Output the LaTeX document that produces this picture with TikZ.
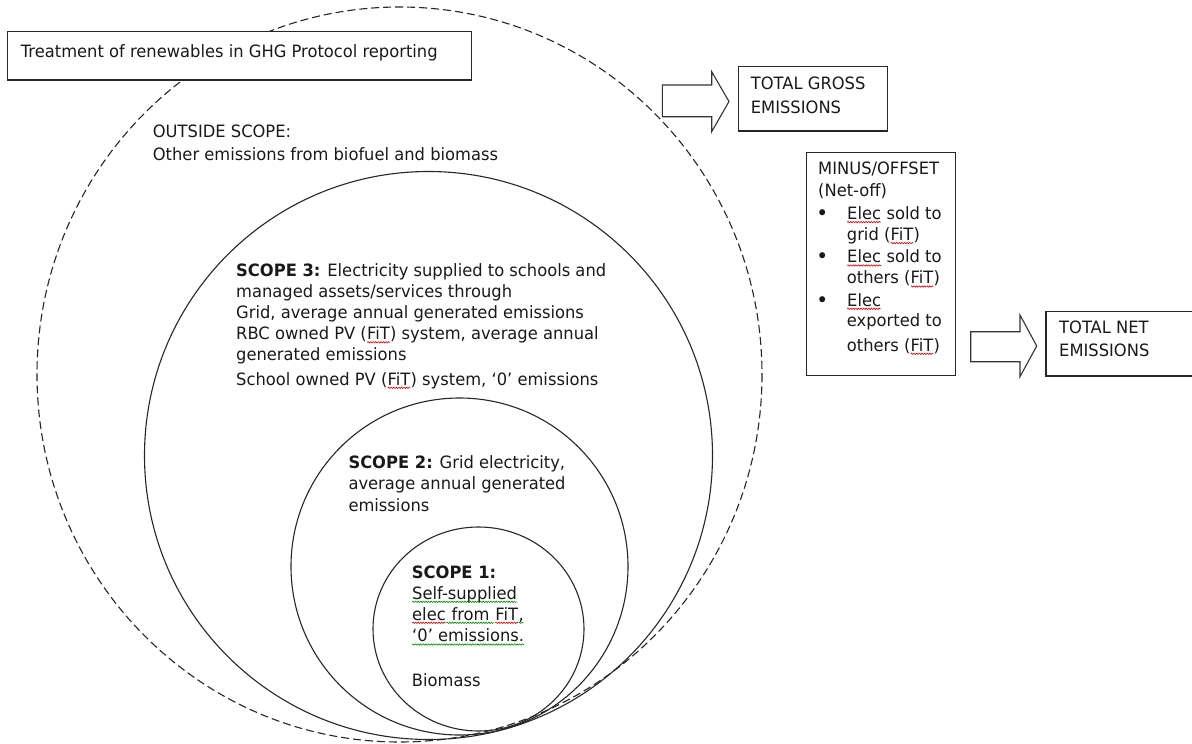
\documentclass[tikz,border=0pt]{standalone}
\usepackage{fontspec}
\setmainfont[FakeStretch=0.96]{DejaVu Sans}
\usetikzlibrary{decorations.pathmorphing}
\newcommand\sqg[2]{\tikz[baseline=(w.base)]{\node[anchor=base, inner sep=0pt, outer sep=0pt] (w) {#2};
  \draw[#1, line width=0.6pt, decorate, decoration={snake, amplitude=0.7pt, segment length=2.6pt}] ([yshift=-2.8pt]w.base west) -- ([yshift=-2.8pt]w.base east);}}
\newcommand\rsq[1]{\sqg{red!85!black}{#1}}
\newcommand\gsq[1]{\sqg{green!55!black}{#1}}
\tikzset{
  lbl/.style={anchor=base west, inner sep=0pt, font=\fontsize{17}{21}\selectfont, text=black!90},
  bul/.style={anchor=base, inner sep=0pt, font=\fontsize{21}{21}\selectfont, text=black!90},
  ring/.style={draw=black!85, line width=1.1pt},
  frame/.style={draw=black!85, line width=1.2pt, fill=white},
  blockarrow/.style={draw=black!80, line width=1.1pt, fill=white, line join=miter},
}
\begin{document}
\begin{tikzpicture}[x=1pt,y=-1pt]
\useasboundingbox (0,0) rectangle (1192,744);
% rings
\draw[ring, dash pattern=on 8pt off 4pt] (399.5,374.5) ellipse [x radius=362.5, y radius=367.5];
\draw[ring] (428.5,455.5) circle [radius=284];
\draw[ring] (459.5,566.5) circle [radius=168.5];
\draw[ring] (478.5,629) ellipse [x radius=105.5, y radius=102];
% boxes
\draw[frame] (7.3,31.5) rectangle (471.7,80);
\draw[frame] (738.3,66.7) rectangle (887.7,131);
\draw[frame] (806.7,152.3) rectangle (955.7,375.7);
\draw[frame] (1046,311.7) rectangle (1200,376);
% block arrows
\draw[blockarrow] (662.3,85) -- (711.7,85) -- (711.7,71.7) -- (729,101.5) -- (711.7,131.7) -- (711.7,116.7) -- (662.3,116.7) -- cycle;
\draw[blockarrow] (970.7,331.7) -- (1020,331.7) -- (1020,315) -- (1036.7,346) -- (1020,376.7) -- (1020,361.7) -- (970.7,361.7) -- cycle;
% title
\node[lbl] (title) at (20.7,57.3) {Treatment of renewables in GHG Protocol reporting};
% outside scope
\node[lbl] (out1) at (152.7,137.3) {OUTSIDE SCOPE:};
\node[lbl] (out2) at (152.7,160) {Other emissions from biofuel and biomass};
% scope 3
\node[lbl] (s3a) at (236,276) {\textbf{SCOPE 3:} Electricity supplied to schools and};
\node[lbl] (s3b) at (236,297.5) {managed assets/services through};
\node[lbl] (s3c) at (236,318.5) {Grid, average annual generated emissions};
\node[lbl] (s3d) at (236,339.5) {RBC owned PV (\rsq{FiT}) system, average annual};
\node[lbl] (s3e) at (236,360.5) {generated emissions};
\node[lbl] (s3f) at (236,385) {School owned PV (\rsq{FiT}) system, ‘0’ emissions};
% scope 2
\node[lbl] (s2a) at (348.3,468.3) {\textbf{SCOPE 2:} Grid electricity,};
\node[lbl] (s2b) at (348.3,489.5) {average annual generated};
\node[lbl] (s2c) at (348.3,511.7) {emissions};
% scope 1
\node[lbl] (s1a) at (411.7,578.3) {\textbf{SCOPE 1:}};
\node[lbl] (s1b) at (411.7,599) {\gsq{Self-supplied}};
\node[lbl] (s1c) at (411.7,620) {\rsq{elec}\gsq{\ from\ \null}\rsq{FiT}\gsq{,}};
\node[lbl] (s1d) at (411.7,641.7) {\gsq{‘0’ emissions.}};
\node[lbl] (s1e) at (411.7,686.7) {Biomass};
% gross
\node[lbl] (g1) at (750.7,89) {TOTAL GROSS};
\node[lbl] (g2) at (750.7,113) {EMISSIONS};
% minus / offset
\node[lbl] (m1) at (818,174.3) {MINUS/OFFSET};
\node[lbl] (m2) at (818,196) {(Net-off)};
\node[bul] (b1) at (822.3,220.3) {•};
\node[lbl] (m3) at (846.7,219.3) {\rsq{Elec} sold to};
\node[lbl] (m4) at (846.7,240.3) {grid (\rsq{FiT})};
\node[bul] (b2) at (822.3,263.7) {•};
\node[lbl] (m5) at (846.7,262.7) {\rsq{Elec} sold to};
\node[lbl] (m6) at (846.7,283.7) {others (\rsq{FiT})};
\node[bul] (b3) at (822.3,307) {•};
\node[lbl] (m7) at (846.7,306) {\rsq{Elec}};
\node[lbl] (m8) at (846.7,326.7) {exported to};
\node[lbl] (m9) at (846.7,351) {others (\rsq{FiT})};
% net
\node[lbl] (n1) at (1059,333.3) {TOTAL NET};
\node[lbl] (n2) at (1059,356.7) {EMISSIONS};
\end{tikzpicture}
\end{document}
